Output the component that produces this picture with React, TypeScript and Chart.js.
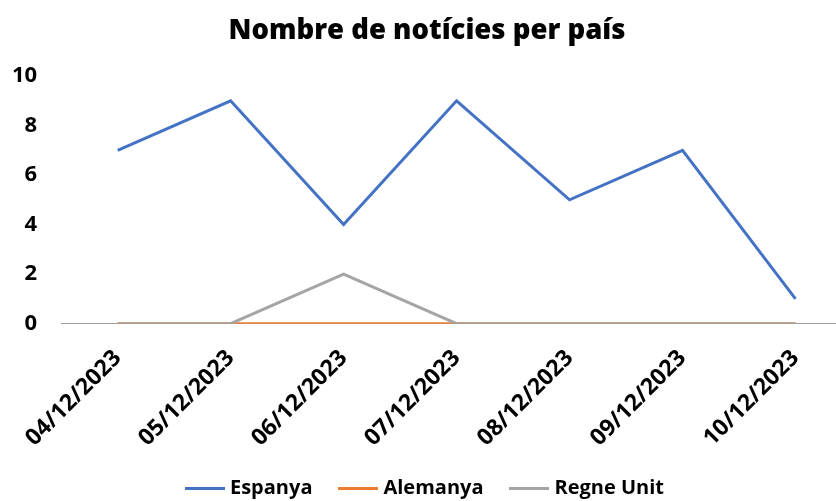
import React, { useEffect, useRef } from "react";
import { Chart, registerables } from "chart.js";

Chart.register(...registerables);

const categories = ["04/12/2023", "05/12/2023", "06/12/2023", "07/12/2023", "08/12/2023", "09/12/2023", "10/12/2023"];
const espanya = [7, 9, 4, 9, 5, 7, 1];
const alemanya = [0, 0, 0, 0, 0, 0, 0];
const regneUnit = [0, 0, 2, 0, 0, 0, 0];
const yTicks = [0, 2, 4, 6, 8, 10];

const FONT = '"Open Sans", sans-serif';
const CANVAS_W = 852;
const CANVAS_H = 508;

function lineMarker(color: string) {
  const c = document.createElement("canvas");
  c.width = 40;
  c.height = 3;
  const g = c.getContext("2d")!;
  g.fillStyle = color;
  g.fillRect(0, 0, 40, 3);
  return c;
}

export default function App() {
  const ref = useRef<HTMLCanvasElement | null>(null);
  useEffect(() => {
    document.body.style.margin = "0";
    const ctx = ref.current!;
    const chart = new Chart(ctx, {
      type: "line",
      data: {
        labels: categories,
        datasets: [
          { label: "Espanya", data: espanya, borderColor: "#4472C4", backgroundColor: "#4472C4", borderWidth: 3, pointRadius: 0, tension: 0, order: 3 },
          { label: "Alemanya", data: alemanya, borderColor: "#ED7D31", backgroundColor: "#ED7D31", borderWidth: 3, pointRadius: 0, tension: 0, order: 2 },
          { label: "Regne Unit", data: regneUnit, borderColor: "#A5A5A5", backgroundColor: "#A5A5A5", borderWidth: 3, pointRadius: 0, tension: 0, order: 1 },
        ],
      },
      options: {
        animation: false,
        responsive: false,
        layout: { autoPadding: false, padding: { left: 2, right: 0, top: 8, bottom: 0 } },
        plugins: {
          title: {
            display: true,
            text: "Nombre de notícies per país",
            color: "#000",
            font: { family: FONT, size: 27.5, weight: 800 },
            padding: { top: 7, bottom: 28 },
          },
          legend: {
            position: "bottom",
            labels: {
              color: "#000",
              font: { family: FONT, size: 20, weight: "bold" },
              usePointStyle: true,
              pointStyleWidth: 30,
              boxHeight: 3,
              padding: 31,
              sort: (a: any, b: any) => a.datasetIndex - b.datasetIndex,
              generateLabels: (chart: any) => {
                const items = Chart.defaults.plugins.legend.labels.generateLabels(chart);
                return items.map((it: any) => ({ ...it, lineWidth: 0, pointStyle: lineMarker(it.strokeStyle as string) }));
              },
            },
          },
          tooltip: { enabled: false },
        },
        scales: {
          x: {
            offset: true,
            grid: { display: false },
            border: { display: true, color: "#A0A0A0", width: 1 },
            ticks: {
              color: "#000",
              font: { family: FONT, size: 23, weight: "bold" },
              minRotation: 45,
              maxRotation: 45,
              padding: 13,
            },
            afterFit: (scale: any) => {
              scale.height -= 18;
            },
          },
          y: {
            min: 0,
            max: 10,
            grid: { display: false, drawTicks: false },
            border: { display: false },
            afterBuildTicks: (axis: any) => {
              axis.ticks = yTicks.map((v) => ({ value: v }));
            },
            afterFit: (scale: any) => {
              scale.width -= 14;
            },
            ticks: {
              color: "#000",
              font: { family: FONT, size: 22, weight: "bold" },
              padding: 24,
            },
          },
        },
      },
    });
    return () => chart.destroy();
  }, []);
  return (
    <div style={{ position: "absolute", left: 0, top: 0, width: 836, height: 501, overflow: "hidden" }}>
      <canvas ref={ref} width={CANVAS_W} height={CANVAS_H} />
    </div>
  );
}
